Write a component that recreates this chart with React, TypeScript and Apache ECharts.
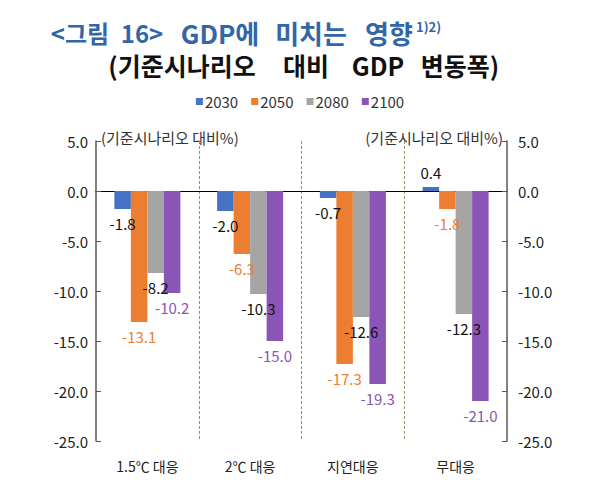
import React, { useEffect, useRef } from "react";
import * as echarts from "echarts";

const categories = ["1.5℃ 대응", "2℃ 대응", "지연대응", "무대응"];
const seriesNames = ["2030", "2050", "2080", "2100"];
const v2030 = [-1.8, -2.0, -0.7, 0.4];
const v2050 = [-13.1, -6.3, -17.3, -1.8];
const v2080 = [-8.2, -10.3, -12.6, -12.3];
const v2100 = [-10.2, -15.0, -19.3, -21.0];
const titleWords = ["<그림", "16>", "GDP에", "미치는", "영향"];
const titleNote = "1)2)";
const subtitleWords = ["(기준시나리오", "대비", "GDP", "변동폭)"];
const unitLabel = "(기준시나리오 대비%)";
const colors = ["#4472C4", "#ED7D31", "#A5A5A5", "#8A55B6"];
const labelColors = ["#111111", "#ED7D31", "#111111", "#8A55B6"];

const FONT = "'Noto Sans CJK KR', 'Noto Sans', sans-serif";
const titleCenters = [80, 142, 220, 311, 389];
const subtitleCenters = [182, 306, 378, 460];

export default function App() {
  const ref = useRef<HTMLDivElement>(null);
  useEffect(() => {
    document.body.style.margin = "0";
    if (!ref.current) return;
    const chart = echarts.init(ref.current, null, { renderer: "svg" });
    const allValues = [v2030, v2050, v2080, v2100];
    const series = allValues.map((vals, i) => ({
      name: seriesNames[i],
      type: "bar",
      xAxisIndex: 0,
      yAxisIndex: 0,
      barWidth: 16.5,
      barGap: "0%",
      itemStyle: { color: colors[i] },
      data: vals.map((v) => ({
        value: v,
        label: {
          show: true,
          position: v >= 0 ? "top" : "bottom",
          distance: 7,
          formatter: (p: any) => Number(p.value).toFixed(1),
          color: labelColors[i],
          fontSize: 15,
          fontFamily: FONT,
        },
      })),
    }));
    const graphics: any[] = [];
    titleWords.forEach((w, i) => {
      graphics.push({
        type: "text",
        x: titleCenters[i],
        y: 32,
        style: {
          text: w,
          align: "center",
          verticalAlign: "middle",
          fontSize: i < 2 ? 24 : 26,
          lineHeight: 24,
          fontWeight: "bold",
          fill: "#3366A6",
          fontFamily: FONT,
        },
      });
    });
    graphics.push({
      type: "text",
      x: 416,
      y: 26,
      style: {
        text: titleNote,
        align: "left",
        verticalAlign: "middle",
        fontSize: 13,
        lineHeight: 13,
        fontWeight: "bold",
        fill: "#3366A6",
        fontFamily: FONT,
      },
    });
    subtitleWords.forEach((w, i) => {
      graphics.push({
        type: "text",
        x: subtitleCenters[i],
        y: 65,
        style: {
          text: w,
          align: "center",
          verticalAlign: "middle",
          fontSize: 25,
          lineHeight: 25,
          fontWeight: "bold",
          fill: "#111111",
          fontFamily: FONT,
        },
      });
    });
    graphics.push(
      {
        type: "text",
        x: 101,
        y: 137,
        style: { text: unitLabel, align: "left", verticalAlign: "middle", fontSize: 15, fill: "#333333", fontFamily: FONT },
      },
      {
        type: "text",
        x: 503,
        y: 137,
        style: { text: unitLabel, align: "right", verticalAlign: "middle", fontSize: 15, fill: "#333333", fontFamily: FONT },
      }
    );
    chart.setOption({
      animation: false,
      backgroundColor: "#ffffff",
      textStyle: { fontFamily: FONT },
      legend: {
        data: seriesNames,
        top: 89,
        left: "center",
        itemWidth: 7,
        itemHeight: 7,
        itemGap: 13,
        icon: "rect",
        textStyle: { fontSize: 15, color: "#333333", fontFamily: FONT, padding: [0, 0, 0, -3] },
      },
      grid: { left: 96, right: 93, top: 141, bottom: 44, containLabel: false },
      xAxis: [
        {
          type: "category",
          data: categories,
          position: "bottom",
          axisLine: { onZero: true, lineStyle: { color: "#000000", width: 1 } },
          axisTick: { show: false },
          axisLabel: { show: false },
          splitLine: { show: false },
        },
        {
          type: "category",
          data: categories,
          position: "bottom",
          axisLine: { show: false, onZero: false },
          axisTick: { show: false },
          axisLabel: { show: true, fontSize: 14, color: "#222222", margin: 18, fontFamily: FONT },
          splitLine: {
            show: true,
            showMinLine: false,
            showMaxLine: false,
            lineStyle: { color: "#8C9466", type: [3, 2], width: 1 },
          },
        },
      ],
      yAxis: [
        {
          type: "value",
          min: -25,
          max: 5,
          interval: 5,
          position: "left",
          axisLine: { show: true, lineStyle: { color: "#595959", width: 1.5 } },
          axisTick: { show: true, inside: true, length: 5, lineStyle: { color: "#595959" } },
          axisLabel: {
            fontSize: 15,
            color: "#222222",
            margin: 8,
            fontFamily: FONT,
            formatter: (v: number) => v.toFixed(1),
          },
          splitLine: { show: false },
        },
        {
          type: "value",
          min: -25,
          max: 5,
          interval: 5,
          position: "right",
          axisLine: { show: true, lineStyle: { color: "#595959", width: 1.5 } },
          axisTick: { show: true, inside: true, length: 5, lineStyle: { color: "#595959" } },
          axisLabel: {
            fontSize: 15,
            color: "#222222",
            margin: 11,
            fontFamily: FONT,
            formatter: (v: number) => v.toFixed(1),
          },
          splitLine: { show: false },
        },
      ],
      graphic: graphics,
      series,
    });
    return () => chart.dispose();
  }, []);
  return <div ref={ref} style={{ width: 600, height: 485 }} />;
}
